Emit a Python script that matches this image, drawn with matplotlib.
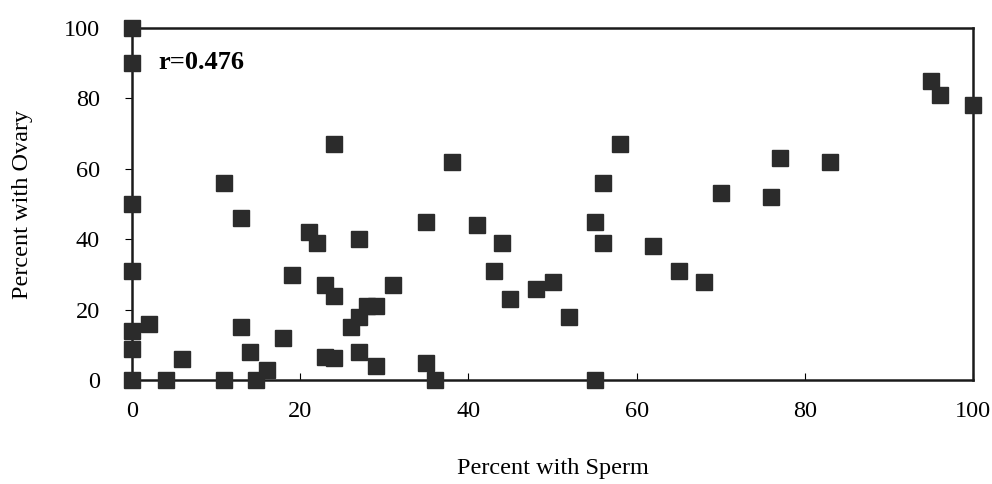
import matplotlib
matplotlib.use('Agg')
import matplotlib.pyplot as plt

# Percent of individuals with sperm vs with ovary
sperm = [0, 0, 0, 0, 0, 0, 0,
         2, 4, 6, 11, 11, 13, 13, 14, 14.7, 16, 18, 19, 21, 22, 24, 23, 24,
         23, 24, 27, 27, 26, 27, 28, 29, 29, 31,
         35, 35, 36, 38, 41, 43, 44, 45, 48, 50, 52,
         55, 55, 56, 56, 58, 62, 65, 68, 70, 76, 77, 83, 95, 96, 100]
ovary = [100, 90, 50, 31, 14, 9, 0,
         16, 0, 6, 56, 0, 46, 15, 8, 0, 3, 12, 30, 42, 39, 67, 27, 24,
         6.5, 6.3, 40, 8, 15, 18, 21, 21, 4, 27,
         45, 5, 0, 62, 44, 31, 39, 23, 26, 28, 18,
         0, 45, 56, 39, 67, 38, 31, 28, 53, 52, 63, 62, 85, 81, 78]
r_value = 0.476

plt.rcParams['font.family'] = ['Liberation Serif', 'DejaVu Serif']

fig = plt.figure(figsize=(9.92, 4.84), dpi=100)
ax = fig.add_axes([0.133, 0.214, 0.848, 0.729])

ax.plot(sperm, ovary, linestyle='none', marker='s', markersize=11,
        color='#2b2b2b', markeredgecolor='#2b2b2b', markeredgewidth=1,
        clip_on=False, zorder=3)

ax.set_xlim(0, 100)
ax.set_ylim(0, 100)
ax.set_xticks(range(0, 101, 20))
ax.set_yticks(range(0, 101, 20))

for s in ax.spines.values():
    s.set_linewidth(1.8)
    s.set_color('#1a1a1a')

ax.tick_params(axis='x', direction='in', length=5, width=0.8, pad=15,
               labelsize=17.5)
ax.tick_params(axis='y', direction='out', length=5, width=0.8, pad=18,
               labelsize=17.5)

ax.text(0.031, 0.9, 'r=%.3f' % r_value, transform=ax.transAxes,
        fontsize=19, fontweight='bold', va='center', ha='left')

ax.set_xlabel('Percent with Sperm', fontsize=17.5, labelpad=26)
ax.set_ylabel('Percent with Ovary', fontsize=17.5, labelpad=22)

fig.savefig('out.png', dpi=100)
